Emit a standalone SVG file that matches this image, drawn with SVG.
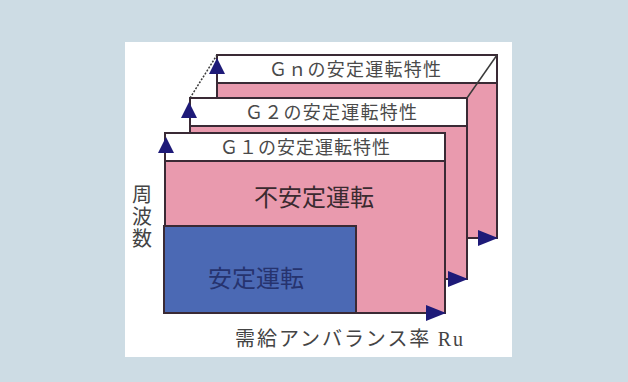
<svg xmlns="http://www.w3.org/2000/svg" width="628" height="382" viewBox="0 0 628 382">
<style>
.edge{stroke:#3a2a35;stroke-width:2;}
.strip{fill:#ffffff;}
.pink{fill:#e99aae;}
.lbl{font-family:"Noto Sans CJK JP","Noto Sans",sans-serif;font-size:18px;fill:#4a4a4a;text-anchor:middle;}
.big{font-family:"Noto Sans CJK JP","Noto Sans",sans-serif;font-size:24px;fill:#3a2a30;text-anchor:middle;}
.axis{font-family:"Noto Sans CJK JP","Noto Sans",sans-serif;font-size:20px;fill:#444444;}
.arr{fill:#1e1a78;}
.diag{stroke:#3a3a3a;stroke-width:1.5;fill:none;}
</style>
<rect x="0" y="0" width="628" height="382" fill="#cddce4"/>
<rect x="125" y="42" width="387" height="315" fill="#ffffff"/>

<g id="panel-gn">
  <rect x="217" y="55" width="280" height="183" class="pink edge"/>
  <rect x="217" y="55" width="280" height="28" class="strip edge"/>
  <text x="355" y="76" class="lbl" textLength="172" lengthAdjust="spacing">Ｇｎの安定運転特性</text>
</g>
<g id="panel-g2">
  <rect x="190" y="98" width="277" height="181" class="pink edge"/>
  <rect x="190" y="98" width="277" height="28" class="strip edge"/>
  <text x="331" y="119" class="lbl" textLength="172" lengthAdjust="spacing">Ｇ２の安定運転特性</text>
</g>
<g id="panel-g1">
  <rect x="165" y="133" width="280" height="180" class="pink edge"/>
  <rect x="165" y="133" width="280" height="28" class="strip edge"/>
  <text x="305" y="154" class="lbl" textLength="170" lengthAdjust="spacing">Ｇ１の安定運転特性</text>
  <text x="314" y="206" class="big">不安定運転</text>
</g>
<g id="region-stable">
  <rect x="164" y="226" width="192" height="87" fill="#4b69b4" class="edge"/>
  <text x="256" y="287" class="big" style="fill:#26336e">安定運転</text>
</g>

<g id="connectors">
  <line x1="190" y1="98" x2="217" y2="55" class="diag" stroke-dasharray="2 1.5"/>
  <line x1="467" y1="98" x2="497" y2="55" class="diag"/>
  <polygon class="arr" points="166,137 158,153 174,153"/>
  <polygon class="arr" points="189,102 181,118 197,118"/>
  <polygon class="arr" points="217,58 209,74 225,74"/>
  <polygon class="arr" points="446,313 426,305 426,321"/>
  <polygon class="arr" points="468,279 448,271 448,287"/>
  <polygon class="arr" points="498,238 478,230 478,246"/>
</g>

<g id="axis-labels">
  <text x="142" y="184" class="axis" writing-mode="tb" letter-spacing="2">周波数</text>
  <text x="235" y="346" class="axis" textLength="228" lengthAdjust="spacing">需給アンバランス率 <tspan font-family="Liberation Serif, serif">Ru</tspan></text>
</g>
</svg>
